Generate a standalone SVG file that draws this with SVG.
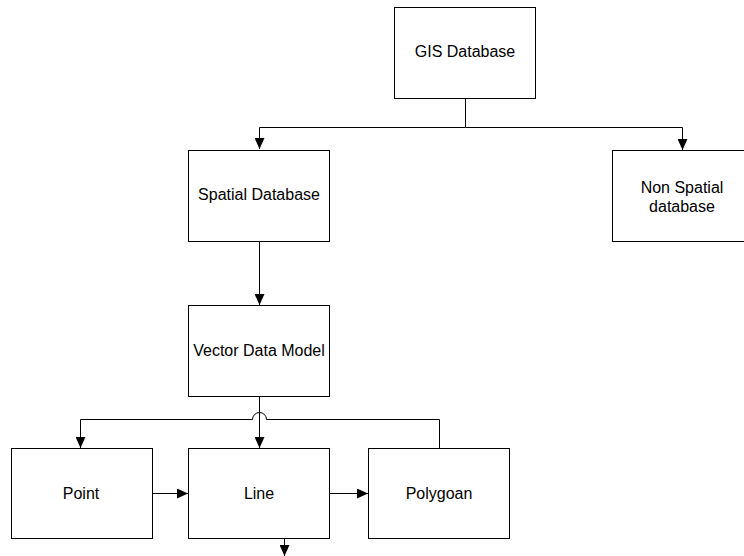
<svg xmlns="http://www.w3.org/2000/svg" width="744" height="556" viewBox="0 0 744 556">
<style>
.box{fill:#fff;stroke:#000;stroke-width:1}
.lbl{font-family:"Liberation Sans",Arial,sans-serif;font-size:16px;fill:#000;text-anchor:middle}
.con{fill:none;stroke:#000;stroke-width:1}
</style>
<defs>
<marker id="arr" viewBox="0 0 11 10" refX="11" refY="5" markerWidth="11" markerHeight="10" markerUnits="userSpaceOnUse" orient="auto">
<path d="M0,0 L11,5 L0,10 z" fill="#000"/>
</marker>
</defs>
<rect width="744" height="556" fill="#fff"/>
<g id="connectors">
<path class="con" d="M465.5,98 V127.5 H259.5 V149" marker-end="url(#arr)"/>
<path class="con" d="M465.5,127.5 H682.5 V150" marker-end="url(#arr)"/>
<path class="con" d="M259.5,241 V305" marker-end="url(#arr)"/>
<path class="con" d="M259.5,396 V448" marker-end="url(#arr)"/>
<path class="con" d="M439.5,448 V419.5 H266.5 A7,7 0 0 0 252.5,419.5 H80.5 V448" marker-end="url(#arr)"/>
<path class="con" d="M152,493.5 H188" marker-end="url(#arr)"/>
<path class="con" d="M329,493.5 H368" marker-end="url(#arr)"/>
<path class="con" d="M284.5,538 V556" marker-end="url(#arr)"/>
</g>
<g id="gis-database">
<rect class="box" x="394.5" y="7.5" width="141" height="91"/>
<text class="lbl" x="465" y="57">GIS Database</text>
</g>
<g id="spatial-database">
<rect class="box" x="188.5" y="150.5" width="141" height="91"/>
<text class="lbl" x="259" y="200">Spatial Database</text>
</g>
<g id="non-spatial-database">
<rect class="box" x="612.5" y="150.5" width="140" height="91"/>
<text class="lbl" x="682" y="193">Non Spatial</text>
<text class="lbl" x="682" y="212">database</text>
</g>
<g id="vector-data-model">
<rect class="box" x="188.5" y="305.5" width="141" height="91"/>
<text class="lbl" x="259" y="356">Vector Data Model</text>
</g>
<g id="point">
<rect class="box" x="11.5" y="448.5" width="141" height="90"/>
<text class="lbl" x="81" y="499">Point</text>
</g>
<g id="line">
<rect class="box" x="188.5" y="448.5" width="141" height="90"/>
<text class="lbl" x="259" y="499">Line</text>
</g>
<g id="polygoan">
<rect class="box" x="368.5" y="448.5" width="141" height="90"/>
<text class="lbl" x="439" y="499">Polygoan</text>
</g>
</svg>
